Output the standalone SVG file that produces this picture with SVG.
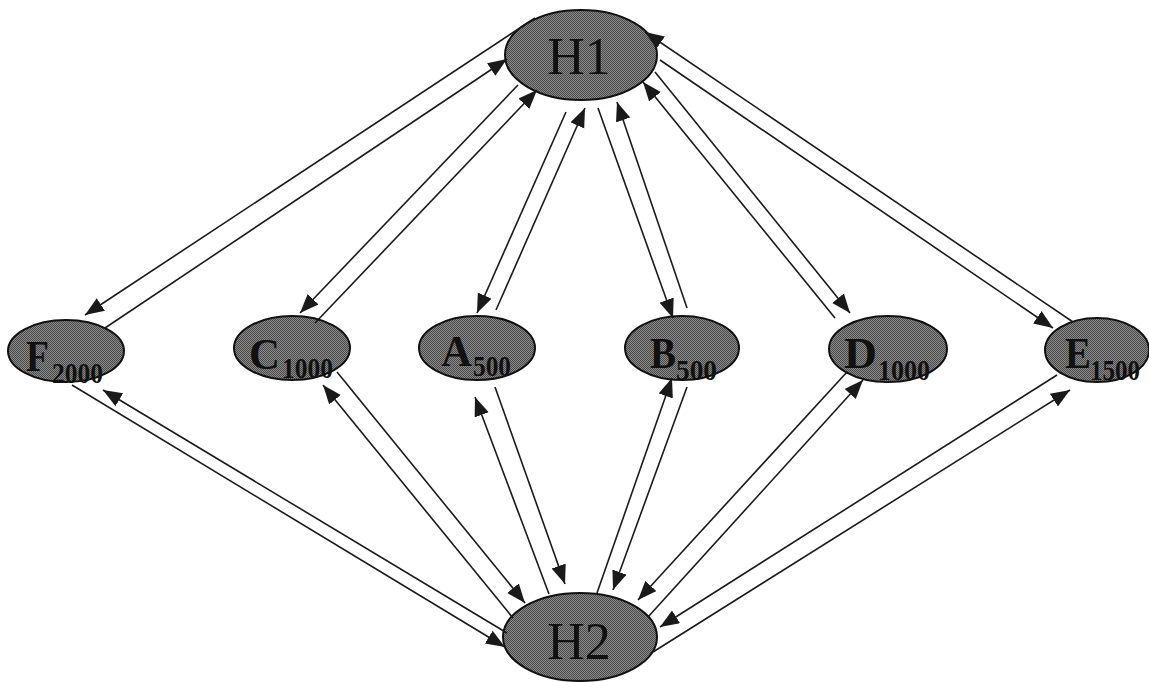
<svg xmlns="http://www.w3.org/2000/svg" width="1149" height="682" viewBox="0 0 1149 682">
<defs>
<marker id="ah" markerUnits="userSpaceOnUse" markerWidth="20" markerHeight="16" refX="19" refY="7.5" orient="auto">
<path d="M0,0 L19,7.5 L0,15 Z" fill="#1a1a1a"/>
</marker>
<pattern id="dots" width="2" height="2" patternUnits="userSpaceOnUse">
<rect width="2" height="2" fill="#8a8a8a"/>
<rect width="1" height="1" fill="#4a4a4a"/>
<rect x="1" y="1" width="1" height="1" fill="#4a4a4a"/>
</pattern>
</defs>
<style>
.node{fill:url(#dots);stroke:#111;stroke-width:2}
.hub{font-family:"Liberation Serif",serif;font-size:52px;fill:#111;text-anchor:middle}
.lbl{font-family:"Liberation Serif",serif;font-size:44px;font-weight:bold;fill:#111}
.sub{font-family:"Liberation Serif",serif;font-size:29px;font-weight:bold;fill:#111}
#connectors line{stroke:#1a1a1a;stroke-width:1.6;marker-end:url(#ah)}
</style>
<rect width="1149" height="682" fill="#fff"/>
<g id="H1"><ellipse class="node" cx="581" cy="55" rx="76" ry="45"/><text class="hub" x="579" y="74">H1</text></g>
<g id="H2"><ellipse class="node" cx="580" cy="637" rx="77" ry="44"/><text class="hub" x="579" y="659">H2</text></g>
<g id="F"><ellipse class="node" cx="66" cy="351" rx="58" ry="31"/><text class="lbl" x="26" y="371" textLength="23" lengthAdjust="spacingAndGlyphs">F</text><text class="sub" x="52" y="383" textLength="51" lengthAdjust="spacingAndGlyphs">2000</text></g>
<g id="C"><ellipse class="node" cx="292" cy="348" rx="58" ry="32"/><text class="lbl" x="249" y="369" textLength="31" lengthAdjust="spacingAndGlyphs">C</text><text class="sub" x="282" y="378" textLength="51" lengthAdjust="spacingAndGlyphs">1000</text></g>
<g id="A"><ellipse class="node" cx="477" cy="348" rx="58" ry="32"/><text class="lbl" x="441" y="366" textLength="31" lengthAdjust="spacingAndGlyphs">A</text><text class="sub" x="473" y="376" textLength="38" lengthAdjust="spacingAndGlyphs">500</text></g>
<g id="B"><ellipse class="node" cx="682" cy="348" rx="57" ry="32"/><text class="lbl" x="650" y="368" textLength="26" lengthAdjust="spacingAndGlyphs">B</text><text class="sub" x="676" y="380" textLength="41" lengthAdjust="spacingAndGlyphs">500</text></g>
<g id="D"><ellipse class="node" cx="888" cy="349" rx="59" ry="33"/><text class="lbl" x="844" y="368" textLength="33" lengthAdjust="spacingAndGlyphs">D</text><text class="sub" x="878" y="380" textLength="52" lengthAdjust="spacingAndGlyphs">1000</text></g>
<g id="E"><ellipse class="node" cx="1097" cy="350" rx="52" ry="32"/><text class="lbl" x="1065" y="368" textLength="26" lengthAdjust="spacingAndGlyphs">E</text><text class="sub" x="1090" y="380" textLength="50" lengthAdjust="spacingAndGlyphs">1500</text></g>
<g id="connectors">
<line x1="535" y1="18" x2="85" y2="315"/>
<line x1="105" y1="328" x2="507" y2="59"/>
<line x1="518" y1="85" x2="300" y2="313"/>
<line x1="315" y1="323" x2="537" y2="90"/>
<line x1="566" y1="112" x2="477" y2="313"/>
<line x1="496" y1="310" x2="585" y2="108"/>
<line x1="598" y1="108" x2="673" y2="318"/>
<line x1="687" y1="308" x2="617" y2="102"/>
<line x1="655" y1="72" x2="850" y2="313"/>
<line x1="835" y1="318" x2="643" y2="82"/>
<line x1="660" y1="60" x2="1053" y2="328"/>
<line x1="1073" y1="322" x2="645" y2="32"/>
<line x1="72" y1="385" x2="505" y2="647"/>
<line x1="507" y1="633" x2="103" y2="390"/>
<line x1="337" y1="372" x2="525" y2="603"/>
<line x1="513" y1="618" x2="323" y2="385"/>
<line x1="495" y1="387" x2="565" y2="584"/>
<line x1="549" y1="594" x2="475" y2="397"/>
<line x1="597" y1="593" x2="672" y2="378"/>
<line x1="687" y1="387" x2="613" y2="590"/>
<line x1="847" y1="372" x2="638" y2="600"/>
<line x1="648" y1="617" x2="863" y2="380"/>
<line x1="1057" y1="375" x2="660" y2="627"/>
<line x1="653" y1="652" x2="1070" y2="390"/>
</g>
</svg>
